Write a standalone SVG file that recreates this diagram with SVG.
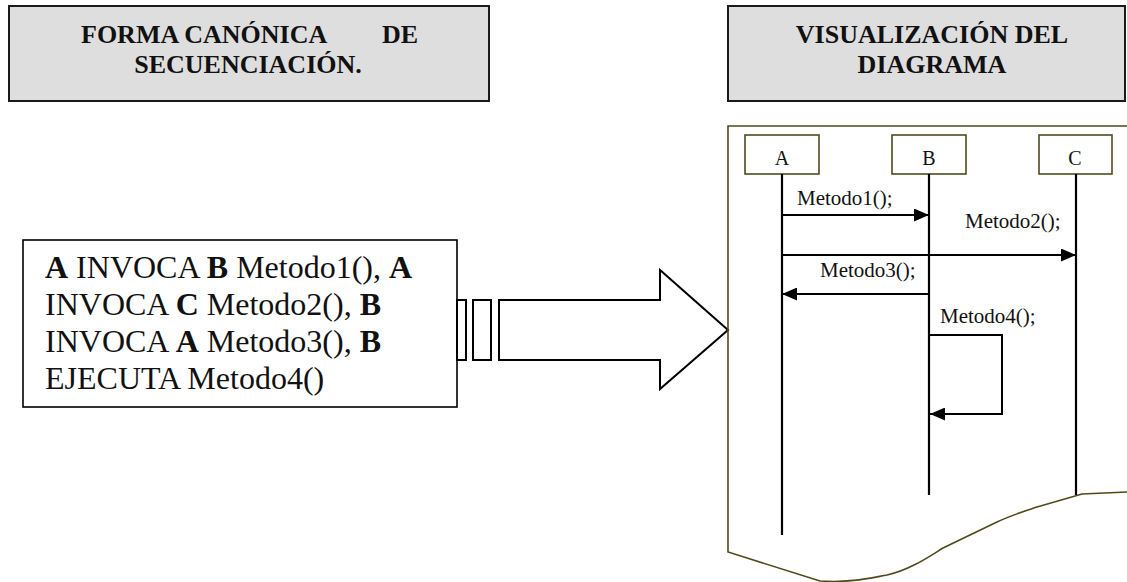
<svg xmlns="http://www.w3.org/2000/svg" width="1127" height="582" viewBox="0 0 1127 582">
<style>
.hdr{fill:#dedede;stroke:#1a1a1a;stroke-width:2}
.ht{font-family:"Liberation Serif","Times New Roman",serif;font-weight:bold;font-size:26px;fill:#111}
.bt{font-family:"Liberation Serif","Times New Roman",serif;font-size:32px;fill:#111}
.b{font-weight:bold}
.ol{fill:none;stroke:#4f4a1c;stroke-width:1.6}
.obj{fill:#fff;stroke:#4f4a1c;stroke-width:1.6}
.ot{font-family:"Liberation Serif","Times New Roman",serif;font-size:20px;fill:#111;text-anchor:middle}
.ml{font-family:"Liberation Serif","Times New Roman",serif;font-size:21px;fill:#111}
.ll{stroke:#000;stroke-width:2.2;fill:none}
.msg{stroke:#000;stroke-width:2;fill:none;marker-end:url(#ah)}
.big{fill:#fff;stroke:#000;stroke-width:2}
</style>
<defs>
<marker id="ah" viewBox="0 0 15 13" refX="15" refY="6.5" markerWidth="15" markerHeight="13" markerUnits="userSpaceOnUse" orient="auto">
<path d="M0,0 L15,6.5 L0,13 Z" fill="#000"/>
</marker>
</defs>
<rect width="1127" height="582" fill="#fff"/>

<g id="header-left">
<rect class="hdr" x="9" y="6" width="480" height="95"/>
<text class="ht" x="81" y="43">FORMA CANÓNICA</text>
<text class="ht" x="418" y="43" text-anchor="end">DE</text>
<text class="ht" x="248" y="73" text-anchor="middle">SECUENCIACIÓN.</text>
</g>

<g id="header-right">
<rect class="hdr" x="728" y="6" width="397" height="95"/>
<text class="ht" x="932" y="43" text-anchor="middle">VISUALIZACIÓN DEL</text>
<text class="ht" x="932" y="73" text-anchor="middle">DIAGRAMA</text>
</g>

<g id="text-box">
<rect x="23" y="240" width="434" height="167" fill="#fff" stroke="#000" stroke-width="1.6"/>
<text class="bt" x="45" y="278"><tspan class="b">A</tspan> INVOCA <tspan class="b">B</tspan> Metodo1(), <tspan class="b">A</tspan></text>
<text class="bt" x="45" y="315">INVOCA <tspan class="b">C</tspan> Metodo2(), <tspan class="b">B</tspan></text>
<text class="bt" x="45" y="352">INVOCA <tspan class="b">A</tspan> Metodo3(), <tspan class="b">B</tspan></text>
<text class="bt" x="45" y="389">EJECUTA Metodo4()</text>
</g>

<g id="big-arrow">
<rect class="big" x="457" y="300" width="9" height="60"/>
<rect class="big" x="473" y="300" width="18" height="60"/>
<path class="big" d="M499,300 H660 V270 L728,330 L660,389 V360 H499 Z"/>
</g>

<g id="frame">
<path class="ol" d="M1127,126 H728 V552 L820,581 C850,583 870,578 887,575 C910,570 930,556 943,548 L997,522 C1012,515 1025,511 1037,507 L1082,494 L1127,492"/>
</g>

<g id="obj-A">
<rect class="obj" x="745" y="135" width="74" height="39"/>
<text class="ot" x="782" y="165">A</text>
</g>
<g id="obj-B">
<rect class="obj" x="892" y="135" width="74" height="39"/>
<text class="ot" x="929" y="165">B</text>
</g>
<g id="obj-C">
<rect class="obj" x="1039" y="135" width="73" height="39"/>
<text class="ot" x="1075" y="165">C</text>
</g>

<g id="connectors">
<line class="ll" x1="782" y1="174" x2="782" y2="535"/>
<line class="ll" x1="929" y1="174" x2="929" y2="495"/>
<line class="ll" x1="1076" y1="174" x2="1076" y2="495"/>
<line class="msg" x1="782" y1="215" x2="929" y2="215"/>
<line class="msg" x1="782" y1="255" x2="1076" y2="255"/>
<line class="msg" x1="929" y1="294" x2="782" y2="294"/>
<path class="msg" d="M929,335 H1002 V414 H930"/>
<text class="ml" x="797" y="205">Metodo1();</text>
<text class="ml" x="965" y="228">Metodo2();</text>
<text class="ml" x="820" y="277">Metodo3();</text>
<text class="ml" x="940" y="323">Metodo4();</text>
</g>
</svg>
